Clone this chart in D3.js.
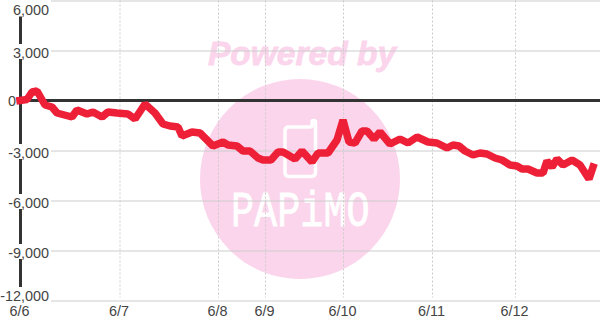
<!DOCTYPE html>
<html>
<head>
<meta charset="utf-8">
<script src="https://cdnjs.cloudflare.com/ajax/libs/d3/7.8.5/d3.min.js"></script>
<style>
  html, body { margin: 0; padding: 0; background: #fff; }
  svg { display: block; }
  text { font-family: "Liberation Sans", Arial, sans-serif; }
</style>
</head>
<body>
<script>
// game count on x, difference in medals on y
var games = [0,70,120,170,250,320,370,520,570,670,730,820,880,970,1080,1150,1250,1350,1430,1500,1580,1620,1720,1800,
  1870,1930,2030,2080,2170,2230,2300,2380,2430,2510,2580,2630,2750,2820,2920,2980,3080,3170,3230,3290,3350,3420,3470,3540,3600,3700,3800,
  3880,3970,4080,4170,4270,4330,4390,4450,4530,4600,4670,4750,4820,4900,4970,5020,5080,5170,5230,5270,5320,5370,5430,5520,5600,5690,5730];
var medals = [0,60,510,570,-270,-390,-750,-990,-570,-810,-690,-990,-690,-750,-810,-1110,-210,-750,-1410,-1530,-1590,-2130,-1890,-1950,
  -2370,-2730,-2490,-2670,-2730,-3030,-3030,-3450,-3570,-3570,-3090,-3090,-3510,-3030,-3690,-3150,-3150,-2370,-1170,-2490,-2550,-1830,-1830,-2310,-1890,-2610,-2310,
  -2550,-2190,-2490,-2550,-2850,-2670,-2730,-3030,-3270,-3150,-3210,-3450,-3570,-3870,-3930,-4110,-4110,-4350,-4350,-3630,-3990,-3510,-3870,-3570,-3870,-4710,-3990];

var yTicks = [6000, 3000, 0, -3000, -6000, -9000, -12000];
var dayLabels = ["6/6", "6/7", "6/8", "6/9", "6/10", "6/11", "6/12"];
var dayGames = [0, 995, 1980, 2450, 3230, 4120, 4950];

var width = 600, height = 320;

var svg = d3.select("body").append("svg")
  .attr("width", width)
  .attr("height", height);

var x = d3.scaleLinear().domain([0, 5800]).range([20, 600]);
var y = d3.scaleLinear().domain([-12000, 6000]).range([300.5, 0.5]);

// WATERMARK

var mark = svg.append("g");

mark.append("circle")
  .attr("cx", 300)
  .attr("cy", 179)
  .attr("r", 100)
  .attr("fill", "#fbd5ec");

mark.append("text")
  .attr("x", 302)
  .attr("y", 65)
  .attr("text-anchor", "middle")
  .attr("font-size", 33.5)
  .attr("font-weight", "bold")
  .attr("font-style", "italic")
  .attr("fill", "#fbd5ec")
  .attr("stroke", "#fbd5ec")
  .attr("stroke-width", 0.8)
  .text("Powered by");

// phone icon
mark.append("path")
  .attr("d", "M289,127 H310 Q312,127 312,125 V122 Q312,120.5 313.5,120.5 Q315.5,120.5 315.5,122 V172 Q315.5,176.5 311,176.5 H289 Q285,176.5 285,172 V131 Q285,127 289,127 Z")
  .attr("fill", "none")
  .attr("stroke", "#fff")
  .attr("stroke-width", 3.5);

mark.append("text")
  .attr("transform", "translate(231,226) scale(0.77,1)")
  .attr("font-size", 50)
  .attr("fill", "#fff")
  .attr("stroke", "#fff")
  .attr("stroke-width", 0.8)
  .style("font-family", "'Liberation Mono'")
  .text("PAPiMO");

// dark vertical axis, broken by the label boxes
svg.append("line")
  .attr("x1", 20.5).attr("x2", 20.5)
  .attr("y1", 15).attr("y2", 290)
  .attr("stroke", "#333")
  .attr("stroke-width", 3);

// GRID AND AXES

var gridY = svg.append("g")
  .call(d3.axisLeft(y).tickValues(yTicks).tickFormat(function(d) {
    return d3.format(",")(d).replace("\u2212", "-");
  }).tickSize(0));

gridY.select(".domain").remove();

gridY.selectAll(".tick").each(function(d) {
  var t = d3.select(this);
  var dy = d === 6000 ? 9 : d === -12000 ? -5.5 : d === 0 ? 0 : 1.5;
  if (d !== 0) {
    t.insert("rect", "text")
      .attr("x", 0)
      .attr("y", dy - 8.5)
      .attr("width", 50)
      .attr("height", 15)
      .attr("fill", "#fff");
  }
  t.append("line")
    .attr("x1", 51).attr("x2", 600)
    .attr("stroke", d === 0 ? "none" : "#ccc");
  t.select("text")
    .attr("x", d === 0 ? 16 : 49)
    .attr("y", dy)
    .attr("dy", "0.36em")
    .attr("text-anchor", "end")
    .attr("fill", "#444")
    .attr("font-size", 14.4);
});

var gridX = svg.append("g")
  .attr("transform", "translate(0,300.5)")
  .call(d3.axisBottom(x).tickValues(dayGames).tickFormat(function(d, i) { return dayLabels[i]; }).tickSize(0));

gridX.select(".domain").remove();

gridX.selectAll(".tick").each(function(d, i) {
  var t = d3.select(this);
  if (i > 0) {
    t.append("line")
      .attr("y1", -300)
      .attr("y2", -3)
      .attr("stroke", "#ccc")
      .attr("stroke-dasharray", "2,2");
  }
  t.select("text")
    .attr("x", -1)
    .attr("y", 5)
    .attr("dy", "0.71em")
    .attr("fill", "#444")
    .attr("font-size", 14.4);
});

// zero line

svg.append("line")
  .attr("x1", 20).attr("x2", 600)
  .attr("y1", y(0)).attr("y2", y(0))
  .attr("stroke", "#333")
  .attr("stroke-width", 3);

// MEDAL LINE

var line = d3.line()
  .x(function(d, i) { return x(games[i]); })
  .y(function(d) { return y(d); });

svg.append("path")
  .datum(medals)
  .attr("d", line)
  .attr("fill", "none")
  .attr("stroke", "#ee2038")
  .attr("stroke-width", 7.5)
  .attr("stroke-linejoin", "bevel")
  .attr("stroke-linecap", "square");
</script>
</body>
</html>
